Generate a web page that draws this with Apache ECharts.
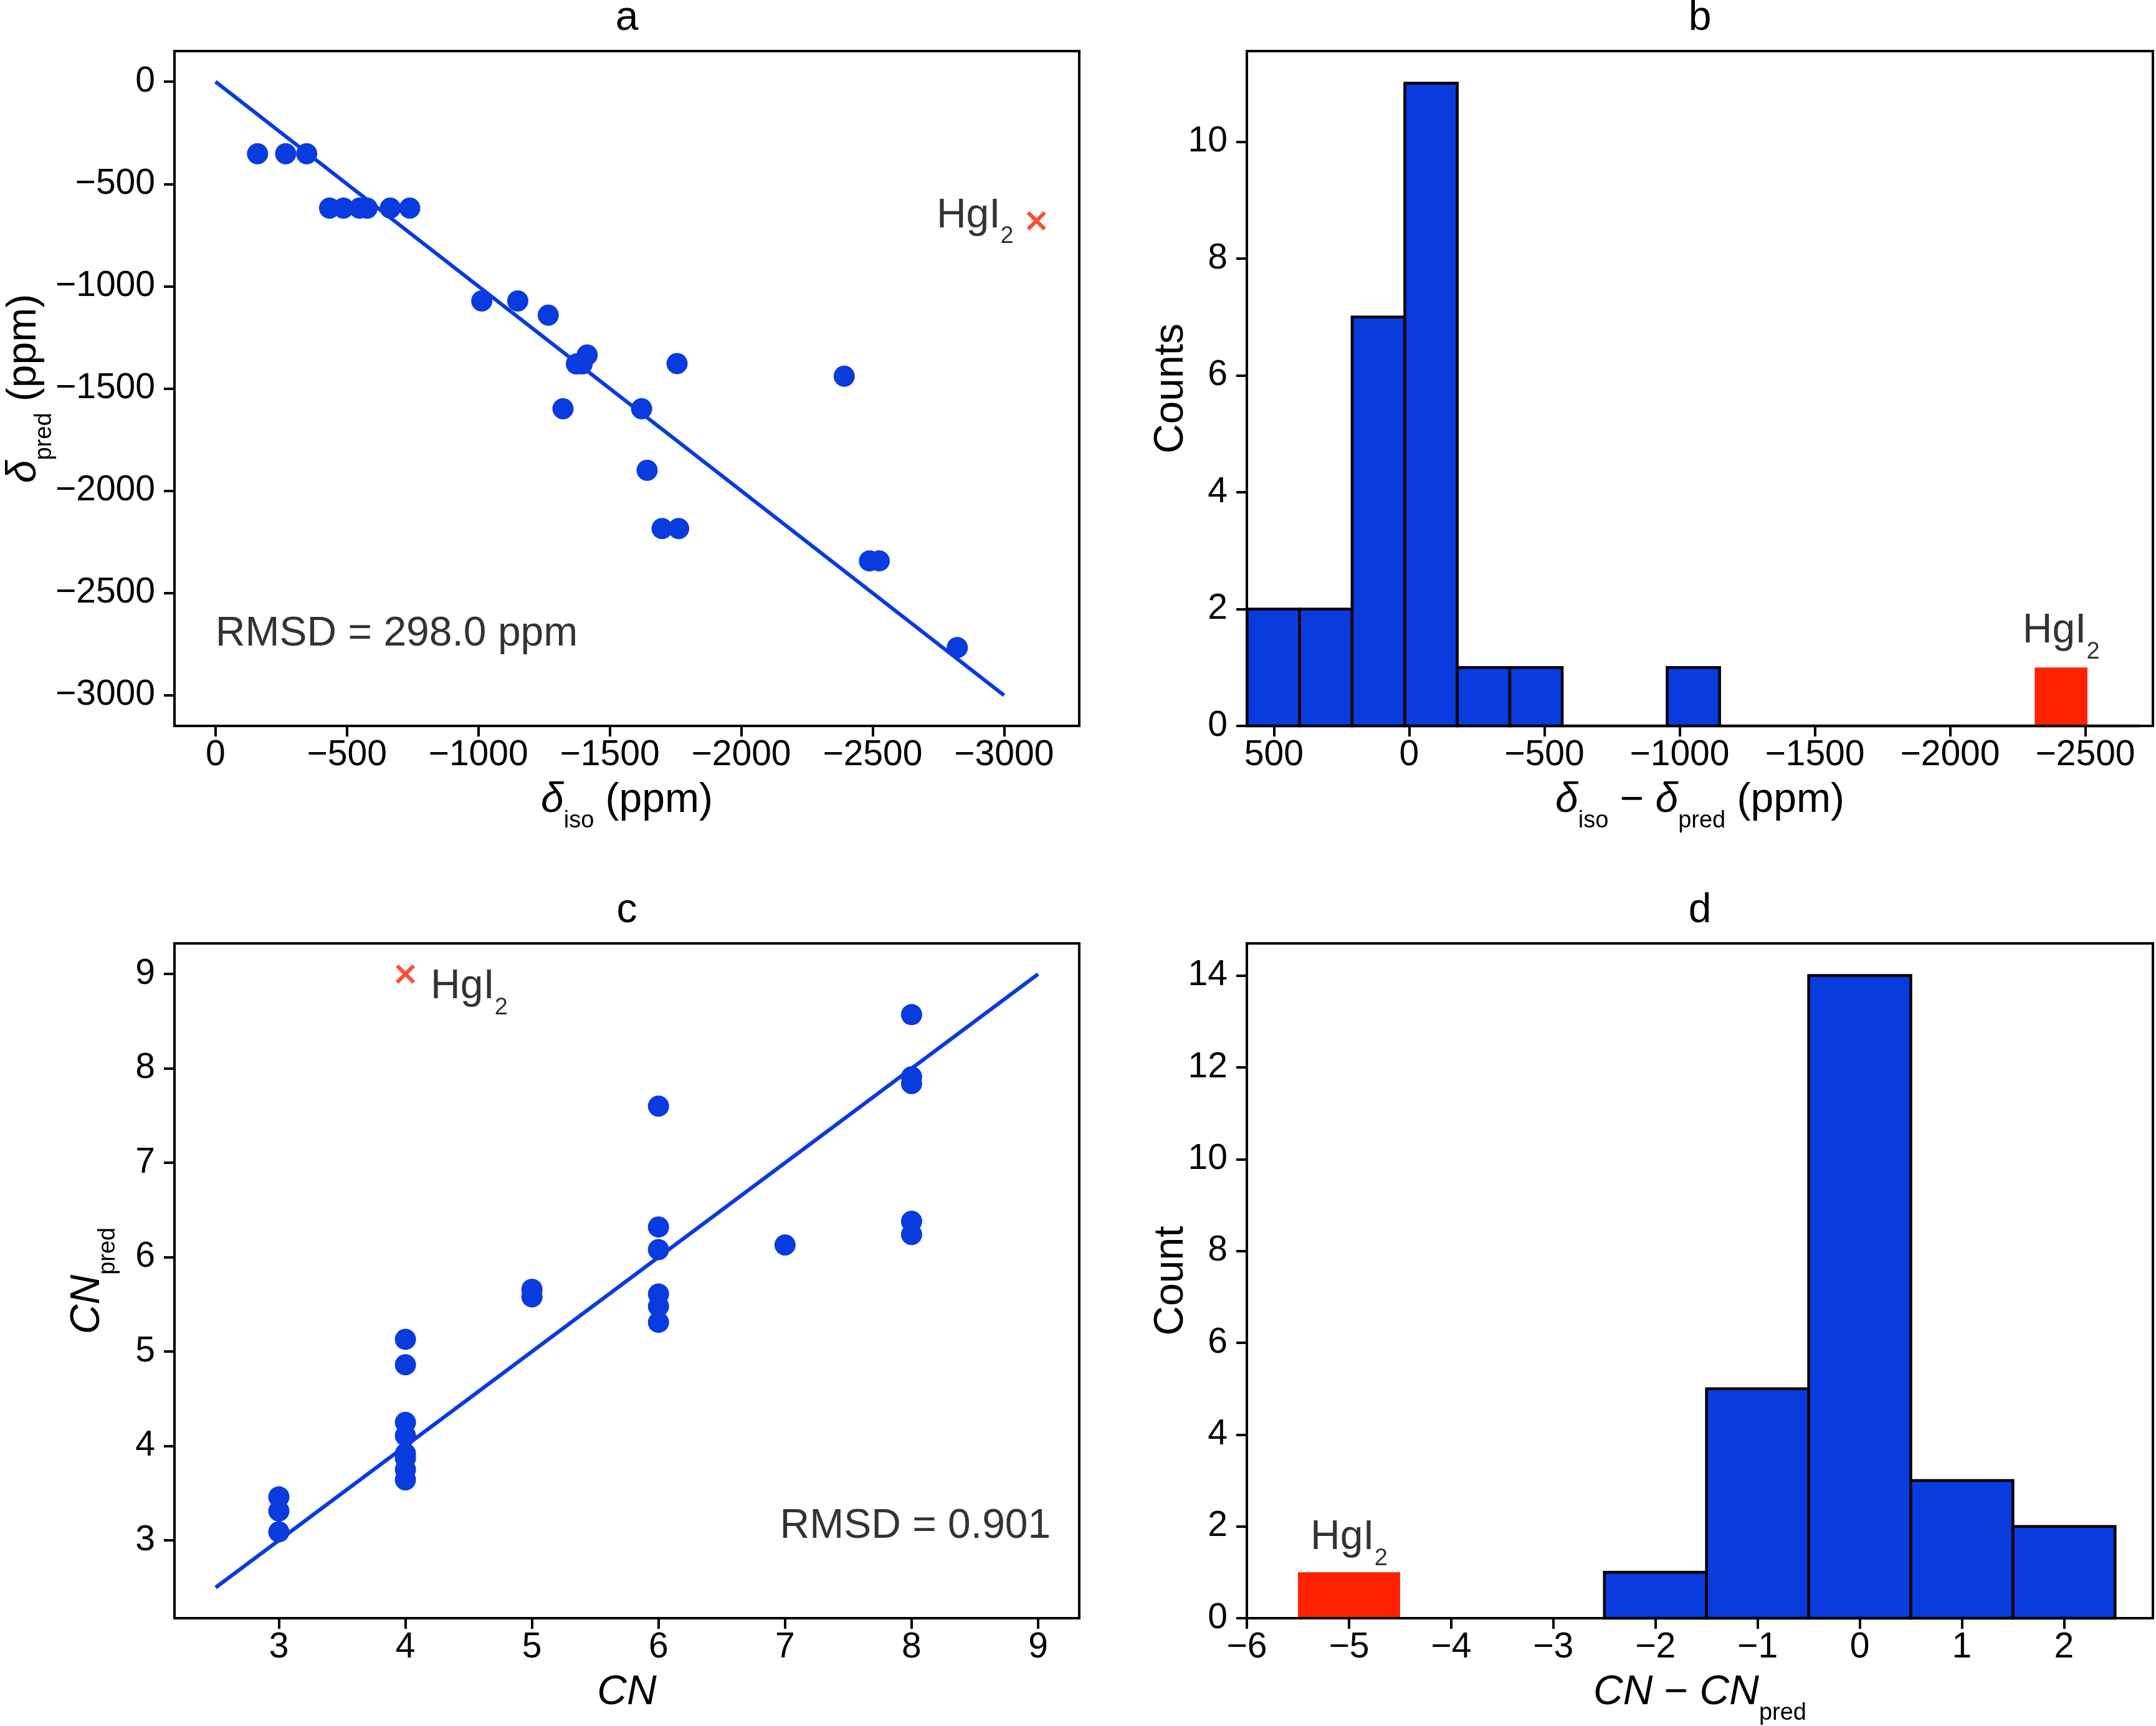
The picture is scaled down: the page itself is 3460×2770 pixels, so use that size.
<!DOCTYPE html>
<html lang="en">
<head>
  <meta charset="UTF-8">
  <meta name="viewport" content="width=device-width, initial-scale=1.0">
  <title>HgI2 shift and CN predictions - ECharts</title>
  <script src="https://cdn.jsdelivr.net/npm/echarts@6.0.0/dist/echarts.min.js"></script>
  <style>
    html, body { margin: 0; padding: 0; background: #fff; }
  </style>
</head>
<body>
  <!-- Chart container -->
  <div id="main" style="width: 3460px; height: 2770px;"></div>

  <script>
    // Panel a: measured vs predicted isotropic shift (ppm)
    const aIso  = [-160, -267, -347, -434, -487, -548, -577, -665, -739, -1013, -1150, -1266, -1373, -1395, -1414, -1756, -1322, -1621, -2392, -1642, -1699, -1762, -2488, -2525, -2822];
    const aPred = [-352, -352, -352, -618, -618, -618, -618, -618, -618, -1072, -1072, -1141, -1380, -1380, -1336, -1378, -1599, -1599, -1440, -1900, -2185, -2185, -2343, -2343, -2767];
    const aHgI2 = [-3123, -680];
    const aFit = [[0, 0], [-3000, -3000]];
    const aXTicks = [0, -500, -1000, -1500, -2000, -2500, -3000];
    const aYTicks = [0, -500, -1000, -1500, -2000, -2500, -3000];
    const aRmsd = 'RMSD = 298.0 ppm';

    // Panel b: histogram of shift residuals
    const bEdges = [599, 405, 211, 16, -178, -372, -566, -760, -954, -1148, -1342, -1536, -1730, -1925, -2119, -2313, -2508, -2702];
    const bCounts = [2, 2, 7, 11, 1, 1, 0, 0, 1, 0, 0, 0, 0, 0, 0, 0, 0];
    const bHgI2Bin = [-2313, -2508];
    const bHgI2Count = 1;
    const bXTicks = [500, 0, -500, -1000, -1500, -2000, -2500];
    const bYTicks = [0, 2, 4, 6, 8, 10];

    // Panel c: coordination number vs predicted
    const cCN   = [3, 3, 3, 4, 4, 4, 4, 4, 4, 4, 4, 5, 5, 6, 6, 6, 6, 6, 6, 7, 8, 8, 8, 8, 8];
    const cPred = [3.46, 3.31, 3.09, 5.13, 4.86, 4.25, 4.11, 3.92, 3.87, 3.75, 3.64, 5.66, 5.58, 7.60, 6.32, 6.08, 5.61, 5.48, 5.31, 6.13, 8.57, 7.91, 7.84, 6.38, 6.24];
    const cHgI2 = [4, 9];
    const cFit = [[2.5, 2.5], [9, 9]];
    const cTicks = [3, 4, 5, 6, 7, 8, 9];
    const cRmsd = 'RMSD = 0.901';

    // Panel d: histogram of CN residuals
    const dEdges = [-2.5, -1.5, -0.5, 0.5, 1.5, 2.5];
    const dCounts = [1, 5, 14, 3, 2];
    const dHgI2Bin = [-5.5, -4.5];
    const dHgI2Count = 1;
    const dXTicks = [-6, -5, -4, -3, -2, -1, 0, 1, 2];
    const dYTicks = [0, 2, 4, 6, 8, 10, 12, 14];

    const panelTitles = ['a', 'b', 'c', 'd'];

    const FONT = '"Liberation Sans", Arial, Helvetica, sans-serif';
    const BLUE = '#0a3bdf';
    const RED = '#ff2200';
    const CROSS = 'path://M0,4.5L4.5,0L16,11.5L27.5,0L32,4.5L20.5,16L32,27.5L27.5,32L16,20.5L4.5,32L0,27.5L11.5,16Z';

    // rich styles: normal, italic, subscript
    const RICH = {
      n: { fontFamily: FONT, fontSize: 66, lineHeight: 66, verticalAlign: 'top', color: '#000' },
      i: { fontFamily: FONT, fontSize: 66, lineHeight: 66, verticalAlign: 'top', color: '#000', fontStyle: 'italic' },
      s: { fontFamily: FONT, fontSize: 38, lineHeight: 38, verticalAlign: 'top', color: '#000', padding: [47, 0, 0, 0] }
    };

    const grids = [
      { left: 280, top: 82, width: 1452, height: 1083 },
      { left: 2001, top: 82, width: 1454, height: 1083 },
      { left: 280, top: 1514, width: 1452, height: 1083 },
      { left: 2001, top: 1514, width: 1454, height: 1083 }
    ].map(g => Object.assign(g, {
      show: true, borderColor: '#000', borderWidth: 4, backgroundColor: 'transparent',
      containLabel: false, outerBoundsMode: 'none'
    }));

    const fmt = v => (v < 0 ? '\u2212' + (-v) : String(v));

    function axis(dim, gridIndex, min, max, ticks, name, nameGap, inverse) {
      return {
        type: 'value', gridIndex, min, max, inverse: !!inverse,
        name, nameLocation: 'middle', nameGap, nameMoveOverlap: false,
        nameRotate: dim === 'y' ? 90 : 0,
        nameTextStyle: { rich: RICH },
        axisLine: { show: true, onZero: false, lineStyle: { color: '#000', width: 4 } },
        axisTick: { show: true, inside: false, length: 17, customValues: ticks,
                    lineStyle: { color: '#000', width: 4 } },
        axisLabel: { show: true, customValues: ticks, margin: dim === 'y' ? 31 : 19,
                     fontFamily: FONT, fontSize: 57, lineHeight: 57, color: '#000', formatter: fmt },
        splitLine: { show: false },
        z: 10
      };
    }

    const xAxes = [
      axis('x', 0, -3286, 156, aXTicks, '{i|δ}{s|iso}{n| (ppm)}', 87, true),
      axis('x', 1, -2750, 600, bXTicks, '{i|δ}{s|iso}{n| \u2212 }{i|δ}{s|pred}{n| (ppm)}', 87, true),
      axis('x', 2, 2.175, 9.325, cTicks, '{i|CN}', 87),
      axis('x', 3, -6, 2.87, dXTicks, '{i|CN}{n| \u2212 }{i|CN}{s|pred}', 87)
    ];
    const yAxes = [
      axis('y', 0, -3150, 150, aYTicks, '{i|δ}{s|pred}{n| (ppm)}', 208),
      axis('y', 1, 0, 11.55, bYTicks, '{n|Counts}', 88),
      axis('y', 2, 2.175, 9.325, cTicks, '{i|CN}{s|pred}', 106),
      axis('y', 3, 0, 14.7, dYTicks, '{n|Count}', 88)
    ];

    const toBins = (edges, counts) => counts.map((c, i) => [edges[i], edges[i + 1], c]);

    function histSeries(idx, data, fill, stroke, lw) {
      return {
        type: 'custom', xAxisIndex: idx, yAxisIndex: idx, data,
        encode: { x: [0, 1], y: 2 },
        renderItem(params, api) {
          const p0 = api.coord([api.value(0), 0]);
          const p1 = api.coord([api.value(1), api.value(2)]);
          return {
            type: 'rect',
            shape: { x: Math.min(p0[0], p1[0]), y: Math.min(p0[1], p1[1]),
                     width: Math.abs(p1[0] - p0[0]), height: Math.abs(p0[1] - p1[1]) },
            style: { fill, stroke, lineWidth: lw }
          };
        }
      };
    }

    const labelBase = { show: true, color: '#000', textBorderWidth: 0, rich: RICH };

    // invisible anchor with a text label
    function note(idx, point, text, position, distance, offset) {
      return {
        type: 'scatter', xAxisIndex: idx, yAxisIndex: idx, data: [point],
        symbolSize: 0.1, itemStyle: { color: 'rgba(0,0,0,0)' }, z: 12,
        label: Object.assign({}, labelBase, { position, distance, offset, formatter: text })
      };
    }

    const hgLabel = '{n|HgI}{s|2}';

    const series = [
      // a
      { type: 'line', xAxisIndex: 0, yAxisIndex: 0, data: aFit, symbol: 'none',
        lineStyle: { color: BLUE, width: 6 }, z: 3 },
      { type: 'scatter', xAxisIndex: 0, yAxisIndex: 0, data: aIso.map((x, i) => [x, aPred[i]]),
        symbol: 'circle', symbolSize: 34, itemStyle: { color: BLUE, opacity: 1 }, z: 4 },
      { type: 'scatter', xAxisIndex: 0, yAxisIndex: 0, data: [aHgI2],
        symbol: CROSS, symbolSize: 31, itemStyle: { color: RED }, z: 5,
        label: Object.assign({}, labelBase, { position: 'left', distance: 21, offset: [0, -8], formatter: hgLabel }) },
      note(0, [0, -2700], '{n|' + aRmsd + '}', 'right', 0, [0, 0]),

      // b
      histSeries(1, toBins(bEdges, bCounts), BLUE, '#000', 4.5),
      histSeries(1, [[bHgI2Bin[0], bHgI2Bin[1], bHgI2Count]], RED, null, 0),
      note(1, [(bHgI2Bin[0] + bHgI2Bin[1]) / 2, bHgI2Count], hgLabel, 'top', 25, [0, 0]),

      // c
      { type: 'line', xAxisIndex: 2, yAxisIndex: 2, data: cFit, symbol: 'none',
        lineStyle: { color: BLUE, width: 6 }, z: 3 },
      { type: 'scatter', xAxisIndex: 2, yAxisIndex: 2, data: cCN.map((x, i) => [x, cPred[i]]),
        symbol: 'circle', symbolSize: 34, itemStyle: { color: BLUE, opacity: 1 }, z: 4 },
      { type: 'scatter', xAxisIndex: 2, yAxisIndex: 2, data: [cHgI2],
        symbol: CROSS, symbolSize: 31, itemStyle: { color: RED }, z: 5,
        label: Object.assign({}, labelBase, { position: 'right', distance: 25, offset: [0, 21], formatter: hgLabel }) },
      note(2, [9.1, 3.0], '{n|' + cRmsd + '}', 'left', 0, [0, -22]),

      // d
      histSeries(3, toBins(dEdges, dCounts), BLUE, '#000', 4.5),
      histSeries(3, [[dHgI2Bin[0], dHgI2Bin[1], dHgI2Count]], RED, null, 0),
      note(3, [(dHgI2Bin[0] + dHgI2Bin[1]) / 2, dHgI2Count], hgLabel, 'top', 22, [0, 0])
    ];

    // panel letters above each grid
    const titlePos = [[1006, 63], [2728, 63], [1006, 1495], [2728, 1495]];
    const graphic = panelTitles.map((t, i) => ({
      type: 'text', x: titlePos[i][0], y: titlePos[i][1], z: 20,
      style: { text: t, fill: '#000', font: '66px ' + FONT, lineHeight: 66,
               align: 'center', textAlign: 'center', verticalAlign: 'bottom', textVerticalAlign: 'bottom' }
    }));

    const myChart = echarts.init(document.getElementById('main'), null, { renderer: 'canvas' });
    myChart.setOption({
      backgroundColor: '#fff',
      animation: false,
      textStyle: { fontFamily: FONT },
      grid: grids,
      xAxis: xAxes,
      yAxis: yAxes,
      series,
      graphic
    });
  </script>
</body>
</html>
